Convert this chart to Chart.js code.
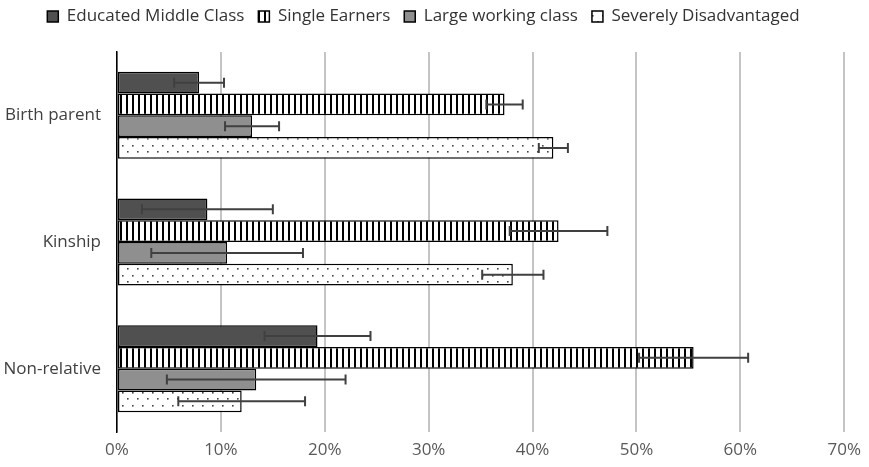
<!DOCTYPE html>
<html>
<head>
<meta charset="utf-8">
<script src="https://cdn.jsdelivr.net/npm/chart.js@4.4.1/dist/chart.umd.min.js"></script>
<style>
  html, body { margin: 0; padding: 0; background: #fff; }
  #wrap { width: 869px; height: 467px; }
</style>
</head>
<body>
<div id="wrap"><canvas id="myChart" width="869" height="467"></canvas></div>
<script>
// data, in percent
const categories = ['Birth parent', 'Kinship', 'Non-relative'];
const seriesNames = ['Educated Middle Class', 'Single Earners', 'Large working class', 'Severely Disadvantaged'];
const educatedMiddle = [7.9, 8.7, 19.3];
const educatedMiddleErr = [2.4, 6.3, 5.1];
const singleEarners = [37.3, 42.5, 55.5];
const singleEarnersErr = [1.75, 4.7, 5.25];
const largeWorking = [13.0, 10.6, 13.4];
const largeWorkingErr = [2.6, 7.3, 8.6];
const severelyDis = [42.0, 38.1, 12.0];
const severelyDisErr = [1.4, 2.95, 6.1];
const xTicks = [0, 10, 20, 30, 40, 50, 60, 70];

const ctx = document.getElementById('myChart');
const g = ctx.getContext('2d');

// fill patterns
const makePattern = (w, h, draw) => {
  const c = document.createElement('canvas');
  c.width = w;
  c.height = h;
  draw(c.getContext('2d'));
  return g.createPattern(c, 'repeat');
};

const stripes = makePattern(6, 6, (p) => {
  p.fillStyle = '#fff';
  p.fillRect(0, 0, 6, 6);
  p.fillStyle = '#000';
  p.fillRect(0, 0, 2, 6);
});

const dots = makePattern(10, 13, (p) => {
  p.fillStyle = '#fff';
  p.fillRect(0, 0, 10, 13);
  p.fillStyle = '#444';
  p.fillRect(2, 2, 1.6, 1.6);
  p.fillRect(7, 8, 1.6, 1.6);
});

// error bars drawn from the x scale
const errorBars = {
  id: 'errorBars',
  afterDatasetsDraw(chart) {
    const c = chart.ctx;
    const xs = chart.scales.x;
    c.save();
    c.strokeStyle = '#404040';
    c.lineWidth = 2;
    chart.data.datasets.forEach((ds, i) => {
      const meta = chart.getDatasetMeta(i);
      meta.data.forEach((bar, j) => {
        const v = ds.data[j];
        const e = ds.errors[j];
        const x1 = xs.getPixelForValue(v - e);
        const x2 = xs.getPixelForValue(v + e);
        const y = bar.y;
        c.beginPath();
        c.moveTo(x1, y);
        c.lineTo(x2, y);
        c.moveTo(x1, y - 5);
        c.lineTo(x1, y + 5);
        c.moveTo(x2, y - 5);
        c.lineTo(x2, y + 5);
        c.stroke();
      });
    });
    c.restore();
  }
};

const mk = (label, data, errors, fill) => ({
  label: label,
  data: data,
  errors: errors,
  backgroundColor: fill,
  borderColor: '#000',
  borderWidth: 1.5,
  borderSkipped: false,
  barPercentage: 1,
  categoryPercentage: 0.687,
});

const config = {
  type: 'bar',
  data: {
    labels: categories,
    datasets: [
      mk(seriesNames[0], educatedMiddle, educatedMiddleErr, '#505050'),
      mk(seriesNames[1], singleEarners, singleEarnersErr, stripes),
      mk(seriesNames[2], largeWorking, largeWorkingErr, '#8f8f8f'),
      mk(seriesNames[3], severelyDis, severelyDisErr, dots),
    ]
  },
  plugins: [errorBars],
  options: {
    indexAxis: 'y',
    responsive: false,
    animation: false,
    layout: { padding: { top: -6, right: 22, left: 0, bottom: 0 } },
    plugins: {
      legend: {
        position: 'top',
        weight: 3000,
        labels: {
          boxWidth: 11,
          boxHeight: 11,
          padding: 14,
          color: '#333',
          font: { family: 'Open Sans', size: 17 },
        }
      },
      // empty title used only as a spacer under the legend
      title: {
        display: true,
        text: ' ',
        font: { size: 1, lineHeight: 1 },
        padding: { top: 0, bottom: 16 },
      },
      tooltip: { enabled: false },
    },
    scales: {
      x: {
        min: 0,
        max: 70,
        afterBuildTicks: (scale) => { scale.ticks = xTicks.map(v => ({ value: v })); },
        ticks: {
          callback: (v) => v + '%',
          color: '#595959',
          padding: 8,
          font: { family: 'Open Sans', size: 17 },
        },
        grid: { color: '#c4c4c4', lineWidth: 2, drawTicks: false },
        border: { display: false },
        afterFit: (scale) => { scale.height = 35; },
      },
      y: {
        ticks: {
          color: '#404040',
          padding: 16,
          font: { family: 'Open Sans', size: 17 },
        },
        grid: { display: false, drawTicks: false },
        border: { color: '#000', width: 1.5 },
        afterFit: (scale) => { scale.width = 117; },
      }
    }
  }
};

const myChart = new Chart(ctx, config);
</script>
</body>
</html>
